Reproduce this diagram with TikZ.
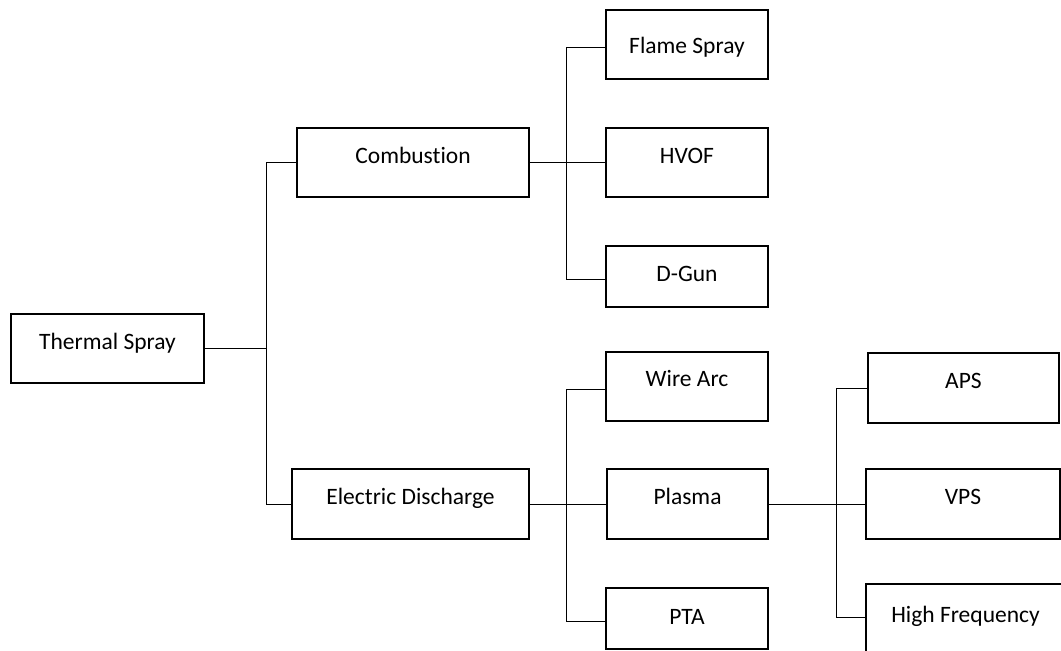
\documentclass[tikz,border=0pt]{standalone}
\usepackage{fontspec}
\setmainfont{Carlito}[Ligatures={NoCommon}]
\begin{document}
\begin{tikzpicture}[x=1pt,y=-1pt,
  box/.style={draw=black, line width=2pt, inner xsep=0pt, inner ysep=0pt, outer sep=0pt,
    anchor=north west, text=black, font=\fontsize{23.5}{28}\selectfont},
  link/.style={draw=black, line width=0.8pt}]
\useasboundingbox (0,0) rectangle (1061,651);
\clip (0,0) rectangle (1061,651);
\fill[white] (0,0) rectangle (1061,651);
% level 0
\node[box, minimum width=193pt, text height=35pt, text depth=34pt] (ts) at (11,314) {Thermal Spray};
% level 1
\node[box, minimum width=232pt, text height=35pt, text depth=34pt] (comb) at (297,128) {Combustion};
\node[box, minimum width=237pt, text height=35pt, text depth=35pt] (ed) at (292,469) {Electric Discharge};
% level 2 (combustion)
\node[box, minimum width=162pt, text height=43pt, text depth=26pt] (fs) at (606,10) {Flame Spray};
\node[box, minimum width=162pt, text height=35pt, text depth=34pt] (hvof) at (606,128) {HVOF};
\node[box, minimum width=162pt, text height=35pt, text depth=26pt] (dg) at (606,246) {D-Gun};
% level 2 (electric)
\node[box, minimum width=162pt, text height=34pt, text depth=35pt] (wa) at (606,352) {Wire Arc};
\node[box, minimum width=161pt, text height=35pt, text depth=35pt] (pl) at (607,469) {Plasma};
\node[box, minimum width=162pt, text height=36pt, text depth=25pt] (pta) at (606,588) {PTA};
% level 3 (plasma)
\node[box, minimum width=191pt, text height=35pt, text depth=35pt] (aps) at (868,353) {APS};
\node[box, minimum width=194pt, text height=35pt, text depth=35pt] (vps) at (866,469) {VPS};
\node[box, minimum width=199pt, text height=38pt, text depth=30pt] (hf) at (866,584) {High Frequency};
% junction x positions
\coordinate (j1) at (266,0);
\coordinate (j2) at (566,0);
\coordinate (j3) at (836,0);
% connectors
\draw[link] (ts.east) -- (ts.east -| j1);
\draw[link] (comb.west) -- (comb.west -| j1) -- (ed.west -| j1) -- (ed.west);
\draw[link] (comb.east) -- (hvof.west);
\draw[link] ([yshift=-2.5pt]fs.west) -- ([yshift=-2.5pt]fs.west -| j2) -- ([yshift=-2.5pt]dg.west -| j2) -- ([yshift=-2.5pt]dg.west);
\draw[link] (ed.east) -- (pl.west);
\draw[link] ([yshift=-2.5pt]wa.west) -- ([yshift=-2.5pt]wa.west -| j2) -- ([yshift=-2.5pt]pta.west -| j2) -- ([yshift=-2.5pt]pta.west);
\draw[link] (pl.east) -- (vps.west);
\draw[link] (aps.west) -- (aps.west -| j3) -- ([yshift=1pt]hf.west -| j3) -- ([yshift=1pt]hf.west);
\end{tikzpicture}
\end{document}
